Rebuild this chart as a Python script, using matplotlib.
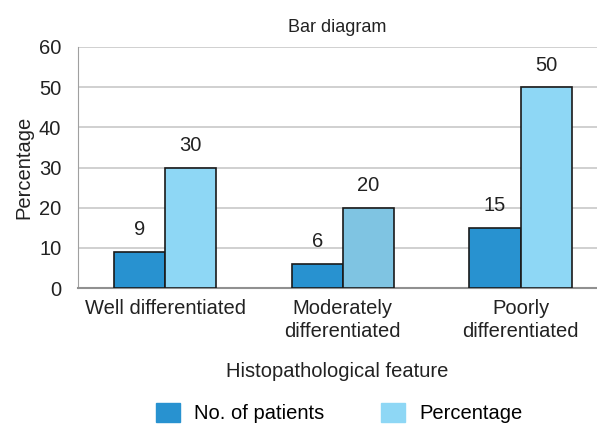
import numpy as np
import matplotlib.pyplot as plt
from matplotlib.patches import Patch

plt.rcParams["font.family"] = ["Liberation Sans", "DejaVu Sans"]

categories = ["Well differentiated", "Moderately\ndifferentiated", "Poorly\ndifferentiated"]
patients = [9, 6, 15]
percentage = [30, 20, 50]

DARK = "#2892d0"
LIGHT = "#8ed7f5"
LIGHT_MID = "#7fc4e2"
pct_colors = [LIGHT, LIGHT_MID, LIGHT]
TXT = "#222222"

fig = plt.figure(figsize=(5.97, 4.26), dpi=100)
ax = fig.add_axes([78 / 597, 1 - 288 / 426, (597 - 78) / 597, (288 - 47) / 426])

x = np.arange(len(categories))
w = 0.288
b1 = ax.bar(x - w / 2, patients, w, color=DARK, edgecolor="#1a1a1a", lw=1.2, zorder=3)
b2 = ax.bar(x + w / 2, percentage, w, color=pct_colors, edgecolor="#1a1a1a", lw=1.2, zorder=3)

for bars, vals in ((b1, patients), (b2, percentage)):
    for r, v in zip(bars, vals):
        ax.annotate(str(v), (r.get_x() + r.get_width() / 2, v), xytext=(0, 22),
                    textcoords="offset pixels", ha="center", va="center",
                    fontsize=14.5, color=TXT)

ax.set_ylim(0, 60)
ax.set_xlim(-0.49, 2.43)
ax.set_yticks(range(0, 61, 10))
ax.set_xticks(x)
ax.set_xticklabels(categories, fontsize=14.5, color=TXT, linespacing=1.25)
ax.tick_params(axis="y", labelsize=14.5, colors=TXT, length=0, pad=12)
ax.tick_params(axis="x", length=0, pad=8)
ax.yaxis.grid(True, color="#c8c8c8", lw=1.2, zorder=0)
ax.set_axisbelow(True)
for s in ("top", "right"):
    ax.spines[s].set_visible(False)
ax.spines["left"].set_color("#a0a0a0")
ax.spines["bottom"].set_color("#909090")
ax.spines["bottom"].set_linewidth(1.5)

ax.set_ylabel("Percentage", fontsize=14.5, color=TXT, labelpad=4)
ax.set_xlabel("Histopathological feature", fontsize=14.5, color=TXT, labelpad=15)
ax.set_title("Bar diagram", fontsize=13, color=TXT, pad=11)

handles = [Patch(color=DARK, label="No. of patients"), Patch(color=LIGHT, label="Percentage")]
fig.legend(handles=handles, loc="center", bbox_to_anchor=(0.568, 1 - 413 / 426), ncol=2,
           frameon=False, fontsize=14.5, handlelength=1.2, handleheight=1.1,
           columnspacing=2.8, handletextpad=0.7)

fig.savefig("out.png", dpi=100)
